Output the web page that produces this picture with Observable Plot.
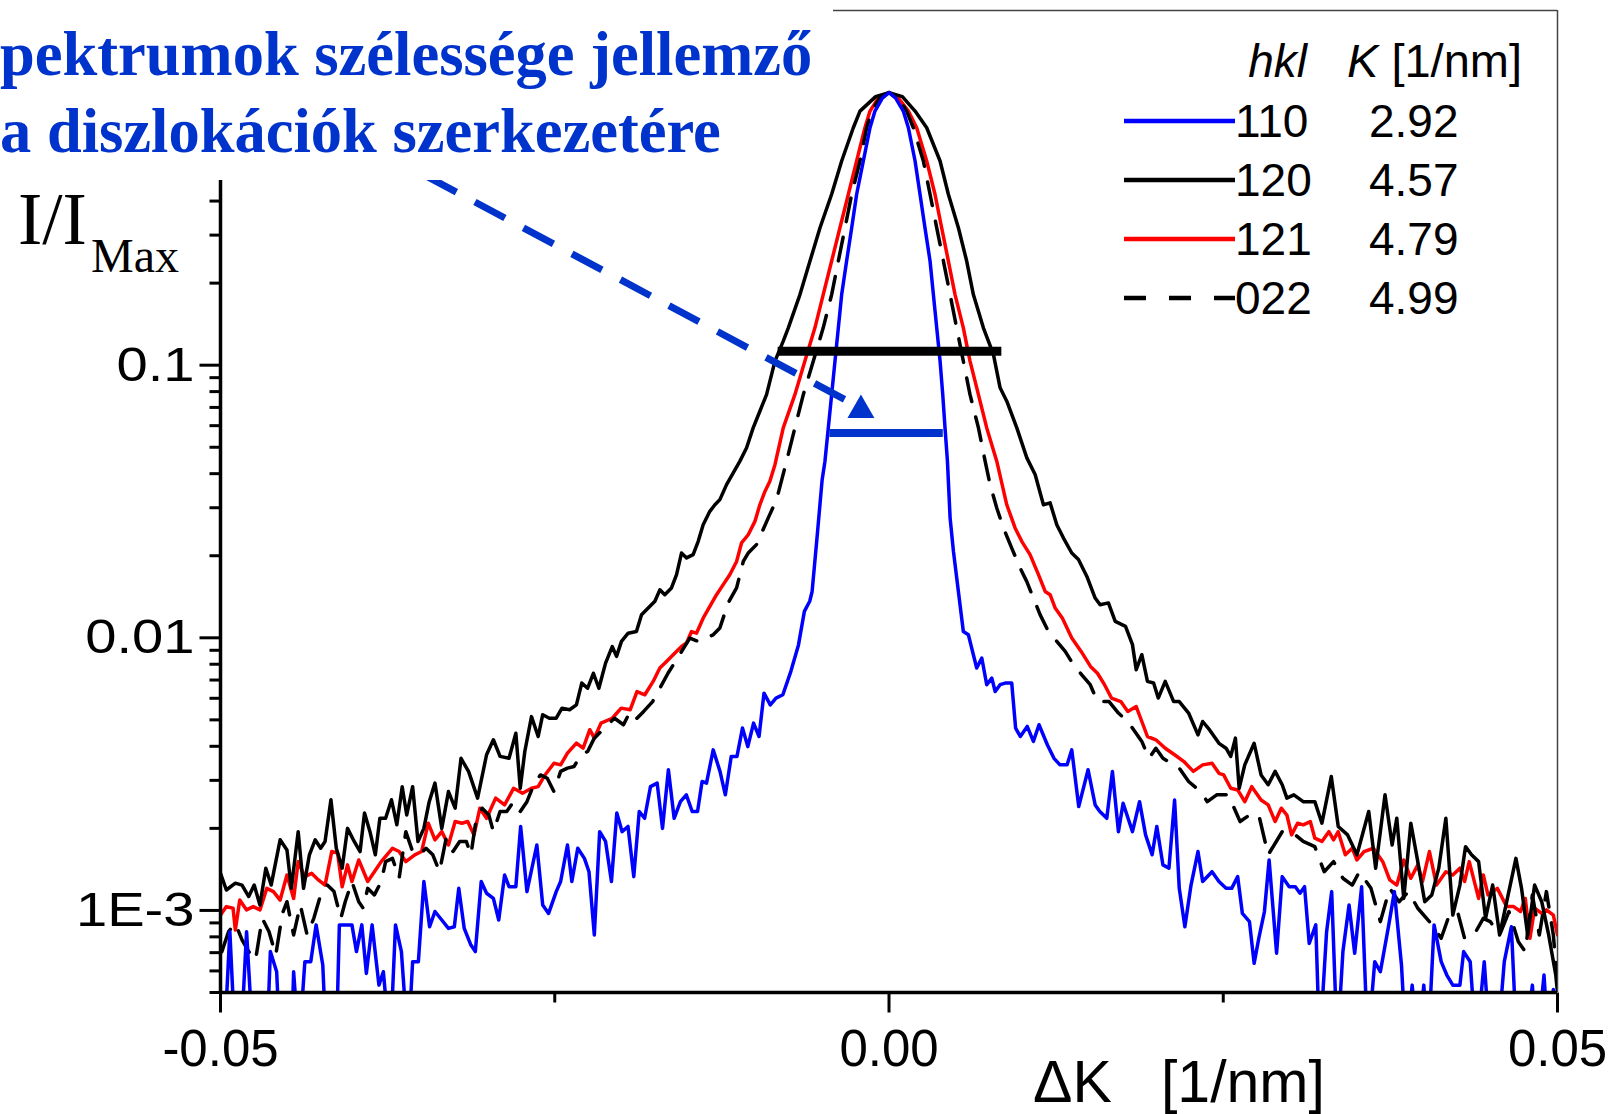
<!DOCTYPE html>
<html><head><meta charset="utf-8">
<script src="https://cdn.jsdelivr.net/npm/d3@7"></script>
<script src="https://cdn.jsdelivr.net/npm/@observablehq/plot@0.6"></script>
<style>html,body{margin:0;padding:0;background:#fff;overflow:hidden}</style>
</head><body><div id="chart"></div>
<script>
// Each series: [ΔK in 10^-3 1/nm, log10(I/I_Max)]
const s110 = [[-50.0,-3.5],[-49.73,-3.5],[-49.30,-3.078],[-48.89,-3.5],[-48.49,-3.5],[-48.05,-3.078],[-47.55,-3.5],[-46.54,-3.5],[-46.27,-3.151],[-45.80,-3.225],[-45.54,-3.5],[-44.70,-3.5],[-44.53,-3.225],[-44.13,-3.5],[-43.69,-3.188],[-43.25,-3.188],[-42.85,-3.053],[-42.35,-3.200],[-42.08,-3.5],[-41.34,-3.5],[-41.11,-3.053],[-40.17,-3.053],[-39.83,-3.151],[-39.43,-3.053],[-39.09,-3.231],[-38.66,-3.053],[-38.15,-3.274],[-37.82,-3.225],[-37.31,-3.5],[-36.91,-3.053],[-36.47,-3.151],[-35.97,-3.5],[-35.63,-3.188],[-35.20,-3.188],[-34.79,-2.894],[-34.36,-3.060],[-33.96,-3.004],[-33.45,-3.035],[-32.95,-3.066],[-32.51,-3.060],[-32.18,-2.919],[-31.77,-3.066],[-31.27,-3.127],[-30.94,-3.151],[-30.50,-2.894],[-30.10,-2.937],[-29.59,-2.956],[-29.19,-3.035],[-28.75,-2.870],[-28.42,-2.913],[-27.91,-2.913],[-27.55,-2.692],[-27.08,-2.931],[-26.34,-2.760],[-25.90,-2.980],[-25.46,-3.011],[-24.89,-2.931],[-24.56,-2.894],[-24.05,-2.760],[-23.72,-2.894],[-23.28,-2.772],[-22.78,-2.809],[-22.44,-2.858],[-22.04,-3.090],[-21.64,-2.711],[-21.20,-2.747],[-20.76,-2.894],[-20.36,-2.643],[-19.96,-2.711],[-19.52,-2.692],[-19.09,-2.876],[-18.68,-2.637],[-18.28,-2.662],[-17.84,-2.546],[-17.34,-2.533],[-16.94,-2.699],[-16.50,-2.484],[-16.07,-2.662],[-15.60,-2.601],[-15.16,-2.576],[-14.72,-2.637],[-14.32,-2.637],[-13.98,-2.527],[-13.65,-2.533],[-13.15,-2.411],[-12.64,-2.490],[-12.24,-2.576],[-11.80,-2.435],[-11.37,-2.435],[-10.96,-2.331],[-10.56,-2.399],[-10.13,-2.313],[-9.72,-2.362],[-9.35,-2.203],[-8.88,-2.246],[-8.45,-2.221],[-7.94,-2.209],[-7.34,-2.123],[-6.77,-2.026],[-6.33,-1.903],[-5.93,-1.866],[-5.75,-1.83],[-5.36,-1.62],[-5.00,-1.42],[-4.79,-1.352],[-4.54,-1.230],[-4.29,-1.108],[-4.04,-0.985],[-3.79,-0.863],[-3.54,-0.741],[-3.17,-0.618],[-2.79,-0.496],[-2.42,-0.373],[-1.92,-0.251],[-1.42,-0.129],[-1.05,-0.068],[-0.50,-0.02],[0,0],[0.50,-0.02],[1.07,-0.068],[1.45,-0.129],[1.95,-0.251],[2.32,-0.373],[2.69,-0.496],[3.07,-0.618],[3.32,-0.741],[3.57,-0.863],[3.82,-0.985],[4.02,-1.108],[4.19,-1.230],[4.37,-1.352],[4.57,-1.560],[4.82,-1.683],[5.19,-1.830],[5.56,-1.977],[5.94,-1.989],[6.31,-2.062],[6.56,-2.111],[6.94,-2.074],[7.31,-2.172],[7.69,-2.148],[7.94,-2.197],[8.31,-2.172],[8.69,-2.166],[9.18,-2.166],[9.47,-2.331],[9.82,-2.362],[10.34,-2.325],[10.80,-2.380],[11.22,-2.319],[11.85,-2.393],[12.34,-2.442],[12.79,-2.466],[13.32,-2.466],[13.67,-2.411],[14.19,-2.619],[14.89,-2.484],[15.42,-2.613],[15.77,-2.637],[16.29,-2.662],[16.71,-2.490],[17.16,-2.711],[17.51,-2.607],[18.21,-2.711],[18.74,-2.601],[19.19,-2.723],[19.68,-2.796],[20.03,-2.692],[20.49,-2.833],[20.94,-2.845],[21.36,-2.595],[21.71,-2.919],[22.13,-3.060],[22.59,-2.907],[23.11,-2.784],[23.46,-2.894],[24.16,-2.858],[24.68,-2.894],[25.21,-2.919],[25.63,-2.919],[26.08,-2.876],[26.43,-3.011],[26.96,-3.041],[27.31,-3.194],[27.66,-3.102],[28.08,-3.004],[28.43,-2.815],[28.99,-3.157],[29.41,-2.876],[29.93,-2.913],[30.39,-2.913],[30.74,-2.937],[31.08,-2.913],[31.43,-3.121],[31.92,-3.053],[32.21,-3.5],[32.73,-3.078],[33.11,-2.931],[33.53,-3.5],[33.95,-3.151],[34.41,-2.980],[34.83,-3.157],[35.35,-2.913],[35.81,-3.5],[36.33,-3.188],[36.75,-3.225],[37.38,-3.053],[37.80,-2.931],[38.33,-3.200],[38.67,-3.5],[39.13,-3.274],[39.55,-3.5],[40.00,-3.274],[40.32,-3.5],[40.77,-3.053],[41.30,-3.188],[41.72,-3.237],[42.17,-3.274],[42.70,-3.274],[42.98,-3.151],[43.47,-3.188],[43.92,-3.5],[44.52,-3.188],[44.97,-3.5],[45.50,-3.5],[46.02,-3.188],[46.55,-3.060],[46.96,-3.5],[47.59,-3.5],[48.12,-3.274],[48.47,-3.5],[48.99,-3.237],[49.34,-3.5],[49.69,-3.29],[50.0,-3.5]];

const s120 = [[-50.0,-2.864],[-49.56,-2.925],[-48.89,-2.900],[-48.39,-2.907],[-47.89,-2.949],[-47.48,-2.907],[-47.05,-2.980],[-46.61,-2.845],[-46.21,-2.907],[-45.54,-2.741],[-45.03,-2.778],[-44.70,-2.919],[-44.19,-2.711],[-43.79,-2.919],[-43.35,-2.796],[-42.92,-2.741],[-42.51,-2.772],[-42.18,-2.747],[-41.74,-2.594],[-41.34,-2.772],[-40.90,-2.845],[-40.50,-2.699],[-40.00,-2.747],[-39.56,-2.784],[-39.23,-2.643],[-38.82,-2.711],[-38.42,-2.796],[-38.08,-2.662],[-37.65,-2.662],[-37.21,-2.594],[-36.81,-2.686],[-36.41,-2.546],[-36.07,-2.650],[-35.63,-2.546],[-35.23,-2.747],[-34.79,-2.699],[-34.39,-2.601],[-33.96,-2.533],[-33.45,-2.699],[-32.95,-2.564],[-32.45,-2.625],[-32.01,-2.442],[-31.44,-2.491],[-30.77,-2.588],[-30.10,-2.429],[-29.59,-2.374],[-29.09,-2.435],[-28.42,-2.442],[-27.91,-2.350],[-27.58,-2.552],[-27.24,-2.417],[-26.74,-2.289],[-26.24,-2.362],[-25.90,-2.282],[-25.40,-2.295],[-24.89,-2.295],[-24.46,-2.258],[-23.89,-2.264],[-23.38,-2.246],[-22.98,-2.166],[-22.54,-2.185],[-22.11,-2.130],[-21.70,-2.185],[-21.20,-2.093],[-20.70,-2.032],[-20.38,-2.068],[-20.01,-2.013],[-19.51,-1.983],[-18.89,-1.977],[-18.51,-1.915],[-18.14,-1.897],[-17.51,-1.866],[-17.14,-1.824],[-16.77,-1.842],[-16.27,-1.817],[-15.89,-1.768],[-15.52,-1.689],[-15.14,-1.707],[-14.65,-1.695],[-14.27,-1.646],[-13.90,-1.585],[-13.40,-1.536],[-13.02,-1.512],[-12.65,-1.493],[-12.15,-1.438],[-11.65,-1.395],[-11.15,-1.352],[-10.65,-1.303],[-10.16,-1.230],[-9.66,-1.169],[-9.16,-1.108],[-8.53,-0.985],[-7.91,-0.912],[-7.53,-0.863],[-6.66,-0.741],[-5.91,-0.618],[-5.16,-0.496],[-4.29,-0.373],[-3.54,-0.251],[-2.67,-0.129],[-2.17,-0.068],[-1.0,-0.015],[0,0],[1.0,-0.015],[1.95,-0.068],[2.82,-0.129],[3.82,-0.251],[4.44,-0.373],[5.19,-0.496],[5.81,-0.618],[6.31,-0.741],[7.06,-0.863],[7.81,-0.960],[8.31,-1.083],[8.81,-1.132],[9.56,-1.230],[10.31,-1.340],[10.93,-1.401],[11.55,-1.512],[12.05,-1.505],[12.55,-1.585],[13.05,-1.634],[13.67,-1.689],[14.17,-1.713],[14.80,-1.775],[15.42,-1.854],[15.79,-1.879],[16.41,-1.872],[16.92,-1.940],[17.69,-1.958],[18.21,-2.025],[18.49,-2.117],[18.91,-2.062],[19.33,-2.160],[19.79,-2.166],[20.14,-2.221],[20.66,-2.160],[21.29,-2.234],[21.71,-2.234],[22.41,-2.276],[23.11,-2.356],[23.46,-2.307],[23.98,-2.338],[24.68,-2.387],[25.21,-2.405],[25.56,-2.435],[25.91,-2.368],[26.19,-2.552],[26.61,-2.466],[27.31,-2.387],[27.83,-2.503],[28.36,-2.539],[28.88,-2.490],[29.41,-2.539],[29.76,-2.588],[30.28,-2.576],[30.98,-2.601],[31.85,-2.601],[32.38,-2.680],[33.08,-2.509],[33.60,-2.692],[34.30,-2.723],[35.00,-2.796],[35.88,-2.637],[36.40,-2.845],[37.10,-2.576],[37.63,-2.760],[37.98,-2.662],[38.50,-2.956],[39.03,-2.680],[39.55,-2.821],[40.07,-2.968],[40.60,-2.943],[41.12,-2.845],[41.65,-2.662],[42.17,-3.017],[42.70,-2.907],[43.12,-2.766],[43.57,-2.796],[44.10,-2.821],[44.62,-3.029],[45.15,-2.907],[45.67,-3.090],[46.20,-2.968],[46.89,-2.809],[47.31,-2.919],[47.77,-3.090],[48.29,-2.907],[48.82,-2.968],[49.34,-3.090],[49.87,-3.237],[50.0,-3.30]];

const s121 = [[-50.0,-3.017],[-49.56,-2.986],[-49.06,-2.992],[-48.89,-3.072],[-48.56,-2.962],[-48.05,-2.998],[-47.55,-2.986],[-47.05,-2.998],[-46.54,-2.919],[-46.04,-2.931],[-45.54,-2.962],[-45.03,-2.870],[-44.53,-2.956],[-44.19,-2.821],[-43.69,-2.876],[-43.19,-2.864],[-42.68,-2.888],[-42.18,-2.907],[-41.68,-2.784],[-41.24,-2.790],[-40.90,-2.913],[-40.50,-2.833],[-40.17,-2.894],[-39.66,-2.815],[-38.99,-2.894],[-38.49,-2.858],[-37.98,-2.821],[-37.14,-2.772],[-36.64,-2.784],[-36.14,-2.821],[-35.47,-2.796],[-34.96,-2.784],[-34.46,-2.680],[-33.96,-2.741],[-33.45,-2.711],[-32.95,-2.760],[-32.45,-2.674],[-31.94,-2.680],[-31.51,-2.674],[-31.04,-2.723],[-30.60,-2.625],[-30.10,-2.662],[-29.42,-2.588],[-28.75,-2.613],[-28.08,-2.552],[-27.41,-2.570],[-26.74,-2.552],[-26.24,-2.546],[-25.73,-2.503],[-25.06,-2.460],[-24.56,-2.466],[-24.05,-2.423],[-23.38,-2.386],[-22.88,-2.405],[-22.38,-2.337],[-22.04,-2.368],[-21.54,-2.313],[-20.70,-2.295],[-20.03,-2.258],[-19.36,-2.264],[-18.85,-2.197],[-18.26,-2.209],[-17.64,-2.160],[-17.14,-2.111],[-16.64,-2.087],[-16.14,-2.062],[-15.52,-2.032],[-15.14,-2.019],[-14.77,-1.977],[-14.40,-1.983],[-13.90,-1.928],[-13.40,-1.885],[-12.90,-1.842],[-12.40,-1.805],[-11.90,-1.768],[-11.40,-1.720],[-11.03,-1.652],[-10.53,-1.622],[-10.03,-1.573],[-9.66,-1.512],[-9.28,-1.463],[-8.91,-1.426],[-8.53,-1.365],[-7.91,-1.230],[-7.04,-1.108],[-6.29,-0.985],[-5.54,-0.863],[-4.92,-0.741],[-4.29,-0.618],[-3.67,-0.496],[-3.04,-0.373],[-2.42,-0.251],[-1.80,-0.129],[-1.42,-0.068],[-0.8,-0.02],[0,0],[0.7,-0.02],[1.45,-0.068],[2.07,-0.129],[2.82,-0.251],[3.44,-0.373],[3.94,-0.496],[4.44,-0.618],[4.94,-0.741],[5.56,-0.863],[6.06,-0.985],[6.69,-1.108],[7.31,-1.230],[8.06,-1.352],[8.81,-1.512],[9.43,-1.597],[9.93,-1.646],[10.55,-1.695],[11.18,-1.768],[11.68,-1.830],[12.05,-1.842],[12.43,-1.891],[12.97,-1.928],[13.67,-2.001],[14.37,-2.050],[15.07,-2.105],[15.59,-2.130],[16.12,-2.172],[16.64,-2.221],[17.34,-2.234],[17.86,-2.270],[18.49,-2.252],[18.91,-2.307],[19.33,-2.362],[19.96,-2.374],[20.66,-2.405],[21.36,-2.429],[22.06,-2.454],[22.76,-2.490],[23.46,-2.466],[24.16,-2.460],[24.68,-2.497],[25.03,-2.503],[25.56,-2.552],[26.08,-2.558],[26.61,-2.601],[27.13,-2.546],[27.83,-2.595],[28.36,-2.613],[28.88,-2.674],[29.34,-2.625],[29.76,-2.650],[30.11,-2.723],[30.56,-2.680],[30.98,-2.686],[31.51,-2.674],[31.85,-2.735],[32.38,-2.747],[32.90,-2.711],[33.25,-2.741],[33.60,-2.711],[34.13,-2.796],[34.65,-2.772],[35.00,-2.815],[35.53,-2.784],[36.23,-2.772],[36.93,-2.821],[37.45,-2.888],[37.98,-2.907],[38.50,-2.815],[39.03,-2.882],[39.55,-2.833],[39.90,-2.894],[40.42,-2.784],[40.95,-2.907],[41.65,-2.858],[42.17,-2.870],[42.70,-2.845],[43.05,-2.894],[43.40,-2.821],[44.10,-2.956],[44.45,-2.870],[44.80,-2.943],[45.50,-2.919],[46.20,-2.986],[46.72,-2.986],[47.24,-3.004],[47.59,-2.956],[47.94,-3.102],[48.29,-2.992],[48.82,-3.011],[49.17,-2.998],[49.69,-3.017],[50.0,-3.090]];

const s022 = [[-49.90,-3.151],[-49.40,-3.078],[-48.89,-3.047],[-48.39,-3.108],[-47.89,-3.151],[-47.38,-3.182],[-46.88,-3.029],[-46.37,-3.078],[-45.87,-3.164],[-45.37,-3.011],[-45.03,-2.968],[-44.53,-3.090],[-44.03,-2.980],[-43.52,-3.090],[-43.02,-3.029],[-42.51,-2.943],[-42.01,-2.907],[-41.51,-2.931],[-41.00,-3.029],[-40.67,-2.968],[-40.17,-2.894],[-39.66,-2.968],[-39.33,-2.992],[-38.99,-2.919],[-38.49,-2.943],[-37.98,-2.894],[-37.65,-2.821],[-37.14,-2.809],[-36.64,-2.882],[-36.14,-2.711],[-35.63,-2.784],[-35.13,-2.796],[-34.63,-2.772],[-34.12,-2.796],[-33.62,-2.858],[-33.12,-2.735],[-32.61,-2.784],[-32.11,-2.747],[-31.61,-2.747],[-31.27,-2.796],[-30.94,-2.686],[-30.43,-2.625],[-29.93,-2.650],[-29.59,-2.711],[-29.09,-2.637],[-28.59,-2.637],[-28.08,-2.601],[-27.58,-2.637],[-27.08,-2.601],[-26.57,-2.539],[-26.07,-2.503],[-25.56,-2.515],[-25.06,-2.564],[-24.56,-2.490],[-24.05,-2.478],[-23.55,-2.472],[-23.05,-2.429],[-22.54,-2.417],[-22.04,-2.368],[-21.54,-2.344],[-21.03,-2.319],[-20.53,-2.295],[-19.86,-2.319],[-19.36,-2.270],[-18.85,-2.295],[-18.35,-2.270],[-17.68,-2.234],[-16.52,-2.129],[-15.89,-2.080],[-14.90,-2.001],[-14.27,-2.013],[-13.15,-1.989],[-12.65,-1.964],[-12.03,-1.872],[-11.40,-1.817],[-10.90,-1.720],[-10.53,-1.689],[-9.91,-1.658],[-9.03,-1.560],[-8.41,-1.493],[-7.66,-1.352],[-7.04,-1.230],[-6.41,-1.108],[-5.66,-0.985],[-4.92,-0.863],[-4.29,-0.741],[-3.79,-0.618],[-3.29,-0.496],[-2.79,-0.373],[-2.17,-0.251],[-1.67,-0.129],[-1.30,-0.068],[-0.7,-0.02],[0,0],[0.7,-0.02],[1.32,-0.068],[1.82,-0.129],[2.57,-0.251],[3.07,-0.373],[3.57,-0.496],[4.07,-0.618],[4.57,-0.741],[5.06,-0.863],[5.56,-0.985],[6.06,-1.108],[6.69,-1.230],[7.19,-1.352],[7.56,-1.438],[8.06,-1.524],[8.56,-1.597],[9.18,-1.671],[9.81,-1.744],[10.30,-1.793],[10.80,-1.854],[11.30,-1.915],[11.93,-1.977],[12.55,-2.013],[13.18,-2.050],[13.80,-2.099],[14.42,-2.136],[15.05,-2.172],[15.59,-2.234],[16.46,-2.234],[17.16,-2.276],[17.86,-2.307],[18.91,-2.380],[19.44,-2.442],[19.96,-2.405],[20.49,-2.442],[21.71,-2.478],[22.41,-2.527],[23.29,-2.564],[23.81,-2.601],[24.51,-2.576],[25.38,-2.576],[26.26,-2.674],[26.96,-2.650],[27.66,-2.650],[28.36,-2.796],[29.41,-2.711],[30.11,-2.711],[30.98,-2.747],[31.85,-2.766],[32.55,-2.858],[33.25,-2.821],[33.95,-2.882],[34.65,-2.907],[35.18,-2.858],[36.05,-2.919],[36.75,-3.041],[37.45,-2.919],[38.15,-2.968],[38.85,-2.931],[39.55,-2.992],[40.42,-3.041],[41.30,-3.102],[41.82,-3.029],[42.52,-3.004],[43.05,-3.102],[43.75,-3.090],[44.45,-3.029],[44.97,-3.041],[45.67,-3.090],[46.37,-3.004],[47.07,-3.115],[47.59,-3.151],[48.12,-2.943],[48.64,-3.090],[49.17,-2.931],[49.69,-3.090],[50.0,-3.274]];

// legend / series info
const hklLabels = ["110", "120", "121", "022"];
const Kvalues = ["2.92", "4.57", "4.79", "4.99"];
const seriesColors = ["#0000ff", "#000000", "#ff0000", "#000000"];
const seriesDash = [null, null, null, "24,16"];
const seriesPairs = [s110, s120, s121, s022];

// width markers (horizontal bars): level I/I_Max, left ΔK, right ΔK
const barLevels = [0.1125, 0.0564];
const barLeft = [-0.00829, -0.00442];
const barRight = [0.00844, 0.00406];
const barColors = ["#000000", "#0033cc"];
const barWidths = [9, 8];

// annotation arrow: start/end (ΔK, I/I_Max) and head position
const arrowFrom = [-0.0346, 0.494];
const arrowTo = [-0.0022, 0.070];
const arrowHead = [-0.0021, 0.0684];

// axis ticks
const yMajor = [1e-3, 1e-2, 1e-1, 1];
const yMajorLabels = ["1E-3", "0.01", "0.1", ""];
const yMinor = [5e-4,6e-4,7e-4,8e-4,9e-4,2e-3,3e-3,4e-3,5e-3,6e-3,7e-3,8e-3,9e-3,0.02,0.03,0.04,0.05,0.06,0.07,0.08,0.09,0.2,0.3,0.4,0.5,0.6,0.7,0.8,0.9,2];
const xMajor = [-0.05, 0, 0.05];
const xMajorLabels = ["-0.05", "0.00", "0.05"];
const xMinor = [-0.025, 0.025];

const toRows = pairs => pairs.map(([k, lg]) => ({dK: k / 1000, I: Math.pow(10, lg)}));

const hTick = len => ({draw(ctx) { ctx.moveTo(0, 0); ctx.lineTo(-len, 0); }});
const vTick = len => ({draw(ctx) { ctx.moveTo(0, 0); ctx.lineTo(0, len); }});

const W = 1612, H = 1114;
const lineOrder = [2, 1, 3, 0];

const chart = Plot.plot({
  width: W, height: H,
  marginLeft: 220, marginRight: 55, marginTop: 10, marginBottom: 122,
  x: {domain: [-0.05, 0.05], axis: null},
  y: {type: "log", domain: [5e-4, 2], axis: null},
  style: {background: "white", overflow: "visible"},
  marks: [
    Plot.ruleY([2], {stroke: "#444", strokeWidth: 1.5}),
    Plot.ruleX([0.05], {stroke: "#444", strokeWidth: 1.5}),
    ...lineOrder.map(i => Plot.line(toRows(seriesPairs[i]), {
      x: "dK", y: "I", stroke: seriesColors[i], strokeWidth: 3.5,
      strokeDasharray: seriesDash[i] || undefined, clip: true, strokeLinejoin: "round"
    })),
    ...barLevels.map((lv, i) => Plot.ruleY([lv], {x1: barLeft[i], x2: barRight[i], stroke: barColors[i], strokeWidth: barWidths[i]})),
    Plot.link([0], {x1: () => arrowFrom[0], y1: () => arrowFrom[1], x2: () => arrowTo[0], y2: () => arrowTo[1],
      stroke: "#0033cc", strokeWidth: 7, strokeDasharray: "34,21"}),
    Plot.dot([arrowHead], {x: d => d[0], y: d => d[1], symbol: "triangle", r: 10, fill: "#0033cc", stroke: "none"}),
    Plot.ruleX([-0.05], {stroke: "black", strokeWidth: 3.5}),
    Plot.ruleY([5e-4], {stroke: "black", strokeWidth: 3.5}),
    Plot.dot(yMajor, {y: d => d, frameAnchor: "left", symbol: hTick(21), stroke: "black", strokeWidth: 3, fill: "none"}),
    Plot.dot(yMinor, {y: d => d, frameAnchor: "left", symbol: hTick(11), stroke: "black", strokeWidth: 3, fill: "none"}),
    Plot.dot(xMajor, {x: d => d, frameAnchor: "bottom", symbol: vTick(20), stroke: "black", strokeWidth: 3, fill: "none"}),
    Plot.dot(xMinor, {x: d => d, frameAnchor: "bottom", symbol: vTick(10), stroke: "black", strokeWidth: 3, fill: "none"}),
    Plot.text(yMajor, {y: d => d, text: yMajorLabels, frameAnchor: "left", dx: -26, textAnchor: "end",
      fontSize: 48, fontFamily: "Liberation Sans", fill: "black"}),
    Plot.text(xMajor, {x: d => d, text: xMajorLabels, frameAnchor: "bottom", dy: 73,
      fontSize: 51, fontFamily: "Liberation Sans", fill: "black"})
  ]
});

document.getElementById("chart").appendChild(chart);

const svg = d3.select(chart);
// y tick labels in the reference are horizontally wide: stretch about their right anchor
svg.selectAll("text").filter(function() {
  const s = this.textContent;
  return s && yMajorLabels.includes(s);
}).each(function() {
  const t = d3.select(this);
  const x = +t.attr("x") || 0, y = +t.attr("y") || 0;
  const tr = t.attr("transform") || "";
  t.attr("transform", `${tr} translate(${x},${y}) scale(1.17,1) translate(${-x},${-y})`);
});

// white title box covering the top-left part of the frame
svg.append("rect").attr("x", 0).attr("y", 0).attr("width", 833).attr("height", 180).attr("fill", "white");
const title = svg.append("g").attr("font-family", "Liberation Serif").attr("font-weight", "bold")
  .attr("font-size", 62.5).attr("fill", "#0033cc").attr("text-anchor", "start");
title.append("text").attr("x", 0).attr("y", 75).text("pektrumok szélessége jellemző");
title.append("text").attr("x", 0).attr("y", 152).text("a diszlokációk szerkezetére");

// y label I/I_Max
const yl = svg.append("g").attr("font-family", "Liberation Serif").attr("fill", "black").attr("text-anchor", "start");
yl.append("text").attr("x", 18).attr("y", 244).attr("font-size", 73).text("I/I");
yl.append("text").attr("x", 91).attr("y", 272).attr("font-size", 48).text("Max");

// x label
svg.append("text").attr("x", 1033).attr("y", 1102).attr("text-anchor", "start")
  .attr("font-family", "Liberation Sans").attr("font-size", 59).attr("fill", "black")
  .text("\u0394K\u00a0\u00a0\u00a0[1/nm]");

// legend
const lg = svg.append("g").attr("font-family", "Liberation Sans").attr("font-size", 46).attr("fill", "black").attr("text-anchor", "start");
lg.append("text").attr("x", 1307).attr("y", 77).attr("text-anchor", "end").attr("font-style", "italic").text("hkl");
const kh = lg.append("text").attr("x", 1347).attr("y", 77).attr("font-size", 47);
kh.append("tspan").attr("font-style", "italic").text("K");
kh.append("tspan").text("\u00a0[1/nm]");
const rowY = [121, 180, 239, 298];
hklLabels.forEach((h, i) => {
  lg.append("line").attr("x1", 1124).attr("x2", 1235).attr("y1", rowY[i]).attr("y2", rowY[i])
    .attr("stroke", seriesColors[i]).attr("stroke-width", 4.5)
    .attr("stroke-dasharray", seriesDash[i] ? "22,23" : null);
  lg.append("text").attr("x", 1235).attr("y", rowY[i] + 16).text(h);
  lg.append("text").attr("x", 1369).attr("y", rowY[i] + 16).text(Kvalues[i]);
});
</script></body></html>
